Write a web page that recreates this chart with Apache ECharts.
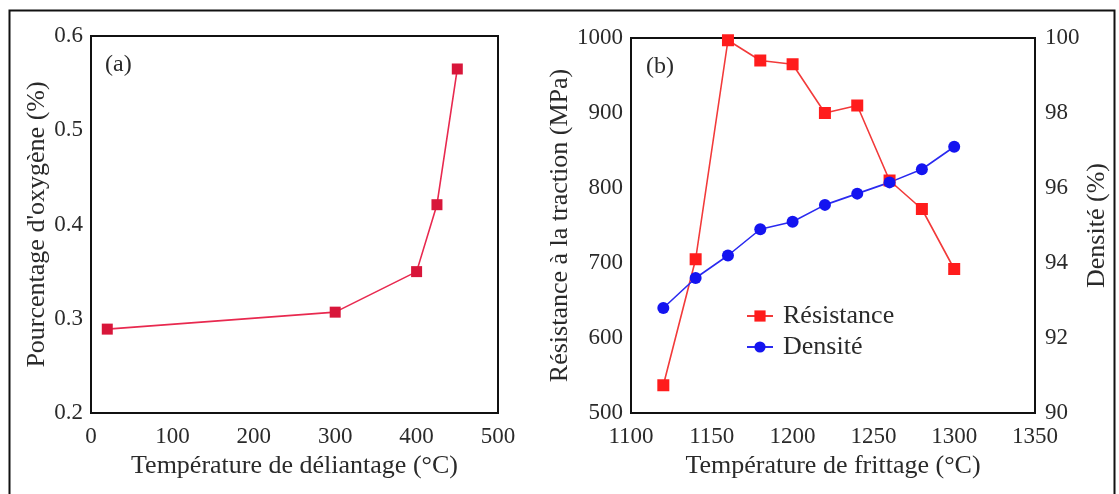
<!DOCTYPE html>
<html>
<head>
<meta charset="utf-8">
<script src="https://cdn.jsdelivr.net/npm/echarts@6/dist/echarts.min.js"></script>
<style>
html,body{margin:0;padding:0;background:#fff;}
#main{width:1119px;height:494px;}
</style>
</head>
<body>
<div id="main"></div>
<script>
// Panel (a)
var debindTemps = [20, 300, 400, 425, 450];
var oxygenPct = [0.289, 0.307, 0.35, 0.421, 0.565];
// Panel (b)
var sinterTemps = [1120, 1140, 1160, 1180, 1200, 1220, 1240, 1260, 1280, 1300];
var resistance = [537, 705, 997, 970, 965, 900, 910, 810, 772, 692];
var densite = [92.8, 93.6, 94.2, 94.9, 95.1, 95.55, 95.85, 96.15, 96.5, 97.1];

var FONT = 'Liberation Serif';
var TXT = '#2a2a2a';

function pairs(xs, ys){ return xs.map(function(x,i){ return [x, ys[i]]; }); }
function plain(v){ return String(v); }

var chart = echarts.init(document.getElementById('main'));
var labelStyle = {fontFamily: FONT, fontSize: 23, color: TXT};
var nameStyle = {fontFamily: FONT, fontSize: 26, color: TXT};

chart.setOption({
  animation: false,
  backgroundColor: '#fff',
  textStyle: {fontFamily: FONT},
  grid: [
    {left: 91, top: 36, width: 407, height: 377, show: true, borderColor: '#111', borderWidth: 2, backgroundColor: 'transparent'},
    {left: 631, top: 38, width: 404, height: 375, show: true, borderColor: '#111', borderWidth: 2, backgroundColor: 'transparent'}
  ],
  xAxis: [
    {type: 'value', gridIndex: 0, min: 0, max: 500, interval: 100,
     name: 'Température de déliantage (°C)', nameLocation: 'middle', nameGap: 39, nameTextStyle: nameStyle,
     axisLine: {show: false}, axisTick: {show: false}, splitLine: {show: false},
     axisLabel: Object.assign({margin: 12, formatter: plain}, labelStyle)},
    {type: 'value', gridIndex: 1, min: 1100, max: 1350, interval: 50,
     name: 'Température de frittage (°C)', nameLocation: 'middle', nameGap: 39, nameTextStyle: nameStyle,
     axisLine: {show: false}, axisTick: {show: false}, splitLine: {show: false},
     axisLabel: Object.assign({margin: 12, formatter: plain}, labelStyle)}
  ],
  yAxis: [
    {type: 'value', gridIndex: 0, min: 0.2, max: 0.6, interval: 0.1,
     name: "Pourcentage d'oxygène (%)", nameLocation: 'middle', nameGap: 41, nameTextStyle: nameStyle,
     axisLine: {show: false}, axisTick: {show: false}, splitLine: {show: false},
     axisLabel: Object.assign({margin: 8, formatter: function(v){ return v.toFixed(1); }}, labelStyle)},
    {type: 'value', gridIndex: 1, min: 500, max: 1000, interval: 100, position: 'left',
     name: 'Résistance à la traction (MPa)', nameLocation: 'middle', nameGap: 56, nameTextStyle: nameStyle,
     axisLine: {show: false}, axisTick: {show: false}, splitLine: {show: false},
     axisLabel: Object.assign({margin: 8, formatter: plain}, labelStyle)},
    {type: 'value', gridIndex: 1, min: 90, max: 100, interval: 2, position: 'right',
     name: 'Densité (%)', nameLocation: 'middle', nameGap: 49, nameTextStyle: nameStyle,
     axisLine: {show: false}, axisTick: {show: false}, splitLine: {show: false},
     axisLabel: Object.assign({margin: 10, formatter: plain}, labelStyle)}
  ],
  legend: {
    data: ['Résistance', 'Densité'],
    orient: 'vertical', left: 741, top: 298, itemWidth: 26, itemHeight: 14, itemGap: 5,
    textStyle: {fontFamily: FONT, fontSize: 26, color: TXT, padding: [0,0,0,5]}
  },
  graphic: [
    {type: 'rect', left: 7, top: 8, shape: {width: 1105, height: 520}, style: {fill: 'none', stroke: '#111', lineWidth: 2}, silent: true},
    {type: 'text', left: 105, top: 53, style: {text: '(a)', font: '24px "Liberation Serif"', fill: TXT}},
    {type: 'text', left: 646, top: 55, style: {text: '(b)', font: '24px "Liberation Serif"', fill: TXT}}
  ],
  series: [
    {name: 'Oxygène', type: 'line', xAxisIndex: 0, yAxisIndex: 0, data: pairs(debindTemps, oxygenPct),
     symbol: 'rect', symbolSize: 11, lineStyle: {color: '#e8294f', width: 1.6},
     itemStyle: {color: '#d8163a'}},
    {name: 'Résistance', type: 'line', xAxisIndex: 1, yAxisIndex: 1, data: pairs(sinterTemps, resistance),
     symbol: 'rect', symbolSize: 12, lineStyle: {color: '#f23a3a', width: 1.6},
     itemStyle: {color: '#ff1c1c'}},
    {name: 'Densité', type: 'line', xAxisIndex: 1, yAxisIndex: 2, data: pairs(sinterTemps, densite),
     symbol: 'circle', symbolSize: 12, lineStyle: {color: '#2a2af0', width: 1.6},
     itemStyle: {color: '#1414f0'}}
  ]
});
</script>
</body>
</html>
